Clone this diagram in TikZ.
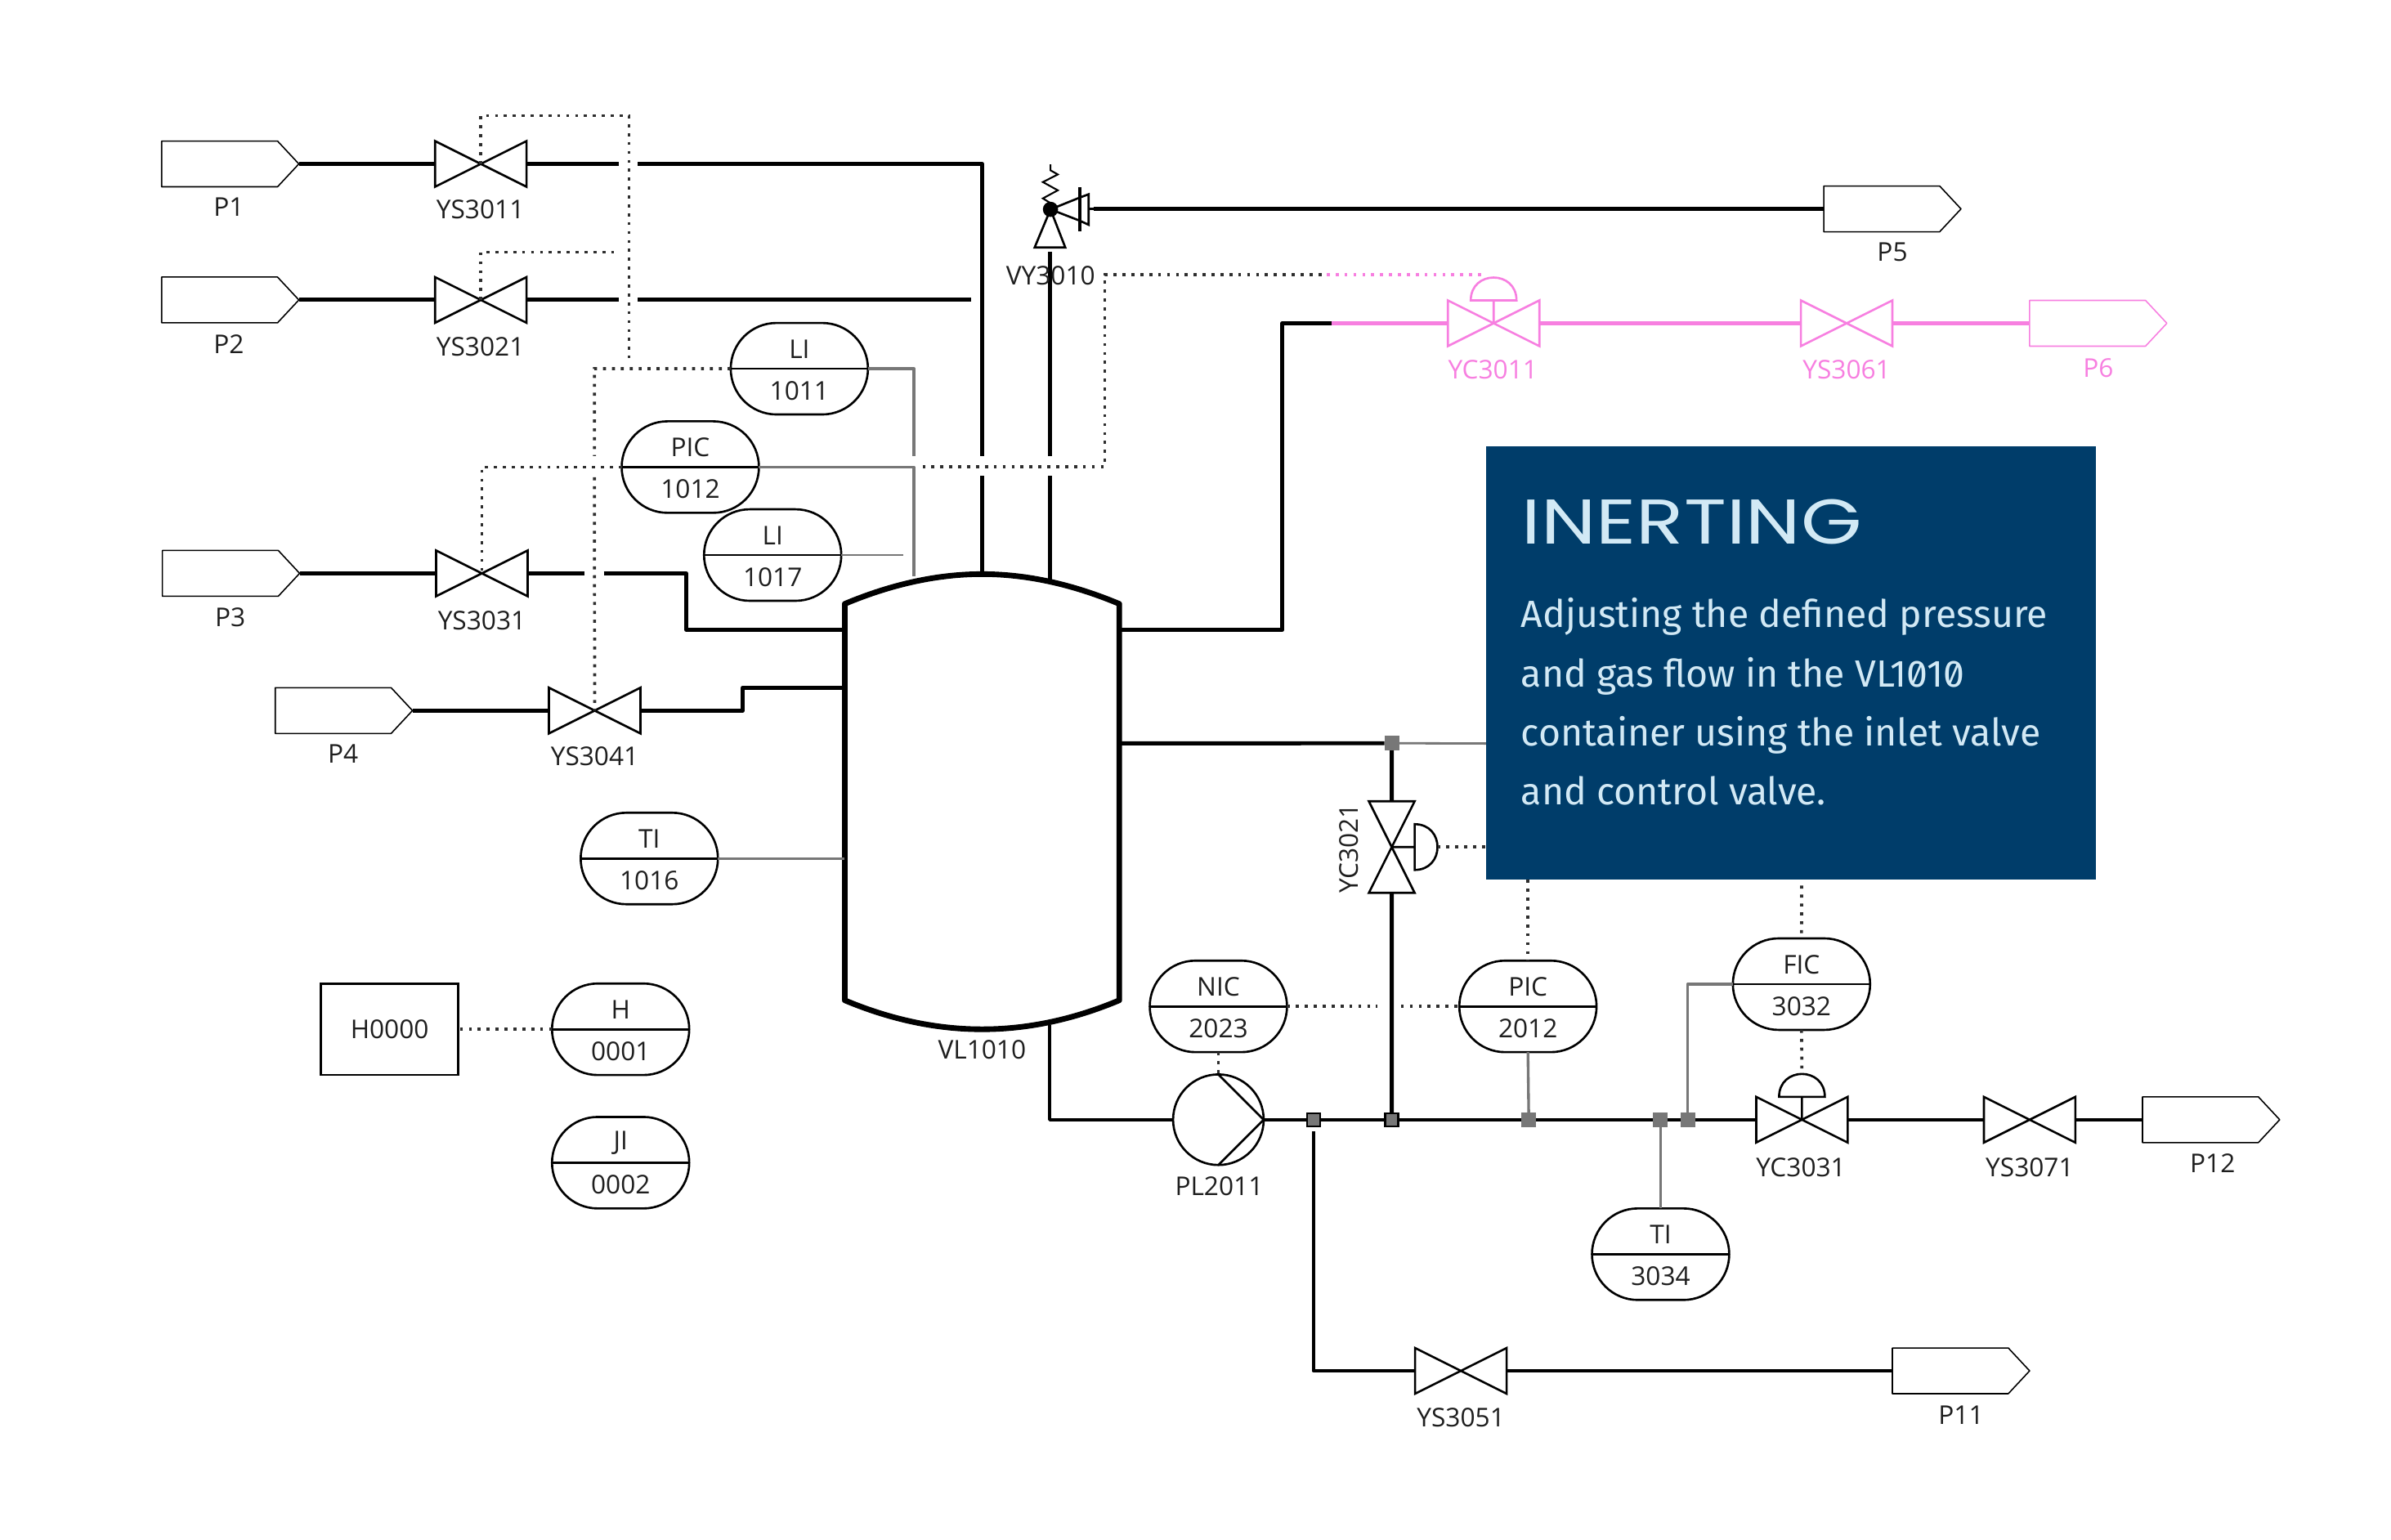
\documentclass[tikz,border=0pt]{standalone}
\usepackage{fontspec}
\usetikzlibrary{shapes.misc,calc}
\setmainfont{Open Sans}
\newfontfamily\bodyfont[RawFeature=+zero]{Fira Sans}
\newfontfamily\titlefont[FakeStretch=1.24]{Poppins}
\definecolor{navy}{HTML}{003D6A}
\definecolor{boxtext}{HTML}{D2E9F5}
\definecolor{pinky}{HTML}{F77FE0}
\definecolor{sgray}{HTML}{777777}
\definecolor{dots}{HTML}{2E2E2E}
\definecolor{labtext}{HTML}{1E1E1E}
\tikzset{
  x=0.037309cm,y=-0.037309cm,
  pipe/.style={line width=2.8pt,line join=round,black},
  vesselline/.style={line width=3.9pt,line join=round,black},
  sig/.style={line width=1.9pt,sgray,line join=round},
  dotline/.style={line width=2.1pt,dots,dash pattern=on 2.1pt off 4.1pt},
  valveline/.style={line width=1.5pt,line join=miter},
  vbox/.style={rectangle,inner sep=0pt,outer sep=0pt,minimum width=2.2386cm,minimum height=1.1193cm},
  vboxv/.style={rectangle,inner sep=0pt,outer sep=0pt,minimum width=1.1193cm,minimum height=2.2386cm},
  tagbox/.style={rectangle,inner sep=0pt,outer sep=0pt,minimum width=3.3578cm,minimum height=1.1193cm},
  instr/.style={rounded rectangle,rounded rectangle arc length=180,draw=black,line width=1.5pt,fill=white,inner sep=0pt,outer sep=0pt,minimum width=3.3578cm,minimum height=2.2386cm},
  hbox/.style={rectangle,draw=black,line width=1.5pt,fill=white,inner sep=0pt,outer sep=0pt,minimum width=3.3578cm,minimum height=2.2386cm,text=labtext,font=\fontsize{18}{20}\selectfont},
  lab/.style={inner sep=0pt,outer sep=0pt,yshift=-0.6pt,text=labtext,font=\fontsize{18}{20}\selectfont},
  plab/.style={lab,text=pinky},
  junc/.style={rectangle,inner sep=0pt,outer sep=0pt,minimum size=0.36cm,fill=sgray},
  juncd/.style={junc,draw=black,line width=1.3pt,minimum size=0.32cm},
  boxbody/.style={inner sep=0pt,outer sep=0pt,anchor=base west,text=boxtext,font=\bodyfont\fontsize{26.4}{30}\selectfont},
}
% valve: [colour]{name}{position}
\newcommand{\vlvh}[3][black]{\node[vbox] (#2) at (#3) {};
  \draw[valveline,#1] (#2.south west)--(#2.north east)--(#2.south east)--(#2.north west)--cycle;}
\newcommand{\vlvv}[3][black]{\node[vboxv] (#2) at (#3) {};
  \draw[valveline,#1] (#2.north west)--(#2.south east)--(#2.south west)--(#2.north east)--cycle;}
% process tag: [colour]{name}{position}
\newcommand{\ptag}[3][black]{\node[tagbox] (#2) at (#3) {};
  \draw[line width=0.9pt,line join=round,#1] (#2.north west)--($(#2.north east)+(-14,0)$)--(#2.east)--($(#2.south east)+(-14,0)$)--(#2.south west)--cycle;}
% instrument: {name}{position}{top}{bottom}
\newcommand{\inst}[4]{\node[instr] (#1) at (#2) {};
  \draw[line width=1.5pt] (#1.west)--(#1.east);
  \node[lab] (#1t) at ($(#1.center)+(0,-13.5)$) {#3};
  \node[lab] (#1b) at ($(#1.center)+(0,14)$) {#4};}
\begin{document}
\begin{tikzpicture}
\useasboundingbox (0,0) rectangle (1568,1009.9);
% coordinates
\coordinate (vTa) at (644,376.5);
\coordinate (vTb) at (688.4,380);
\coordinate (vGr) at (599.4,378);
\coordinate (vL3) at (554,413);
\coordinate (vL4) at (554,451);
\coordinate (vLt) at (554,563);
\coordinate (vRa) at (734,413);
\coordinate (vRb) at (734,487.5);
\coordinate (vBt) at (688.4,672);
% tags and valves
\ptag{P1}{151,107.5}
\ptag{P2}{151,196.7}
\ptag{P3}{151.5,376}
\ptag{P4}{225.5,466}
\ptag{P5}{1241,137}
\ptag[pinky]{P6}{1376,212}
\ptag{P11}{1286,899}
\ptag{P12}{1450,734.3}
\vlvh{YS1}{315.3,107.5}
\vlvh{YS2}{315.3,196.7}
\vlvh{YS3}{316,376}
\vlvh{YS4}{390,466}
\vlvh{YS5}{958,899}
\vlvh{YS7}{1331,734.3}
\vlvh[pinky]{YS6}{1211,212}
\vlvh[pinky]{YCa}{979.5,212}
\vlvh{YCc}{1181.7,734.3}
\vlvv{YCb}{912.7,555.5}
% actuators
\coordinate (AaB) at ($(YCa.center)+(0,-15)$);
\coordinate (AaT) at ($(YCa.center)+(0,-30.5)$);
\coordinate (AcB) at ($(YCc.center)+(0,-15)$);
\coordinate (AcT) at ($(YCc.center)+(0,-30)$);
\coordinate (AbB) at ($(YCb.center)+(15,0)$);
\coordinate (AbT) at ($(YCb.center)+(30,0)$);
\draw[valveline,pinky] (YCa.center)--(AaB) ($(AaB)+(-15,0)$) .. controls +(0,-20) and +(0,-20) .. ($(AaB)+(15,0)$) -- cycle;
\draw[valveline] (YCc.center)--(AcB) ($(AcB)+(-15,0)$) .. controls +(0,-20) and +(0,-20) .. ($(AcB)+(15,0)$) -- cycle;
\draw[valveline] (YCb.center)--(AbB) ($(AbB)+(0,-15)$) .. controls +(20,0) and +(20,0) .. ($(AbB)+(0,15)$) -- cycle;
% vessel
\draw[vesselline] (554,396) .. controls (585,383) and (615,376.5) .. (vTa) .. controls (673,376.5) and (703,383) .. (734,396) -- (734,656) .. controls (703,669) and (673,675) .. (644,675) .. controls (615,675) and (585,669) .. (554,656) -- cycle;
% relief valve
\coordinate (Rb) at (688.9,137.3);
\coordinate (Rin) at (688.4,165);
\coordinate (Rout) at (717,137);
\draw[line width=1.2pt,line join=miter] (688.9,107.8)--(688.9,111.7)--(693.7,114.4)--(683.9,119.4)--(693.7,124.8)--(683.9,130.1)--(688.9,133.2);
\draw[valveline] (Rb)--(678.5,162.3)--(698.6,162.3)--cycle;
\draw[valveline] (Rb)--(708,129.6)--(708,144.7)--cycle;
\draw[valveline] (708,129.6)--(713.9,127.4)--(713.9,147.4)--(708,144.7);
\draw[line width=2.2pt] (708,122.9)--(708,151.5);
\draw[valveline] (713.9,137)--(Rout);
\fill (Rb) circle (5);
% pump
\node[circle,draw=black,line width=1.5pt,inner sep=0pt,outer sep=0pt,minimum size=2.2162cm] (pump) at (799,734.3) {};
\draw[line width=1.5pt,line join=miter] (pump.north)--(pump.east)--(pump.south);
% junctions
\node[juncd] (Ja) at (861.3,734.3) {};
\node[juncd] (Jb) at (912.7,734.3) {};
\node[junc] (Jc) at (1002.5,734.3) {};
\node[junc] (Jd) at (1089,734.3) {};
\node[junc] (Je) at (1106.7,734.3) {};
\node[junc] (Jf) at (912.7,487.4) {};
% free ends of broken lines
\coordinate (g1a) at (405.6,107.5); \coordinate (g1b) at (418.3,107.5); \coordinate (c1) at (vTa |- g1a);
\coordinate (g2a) at (405.6,196.7); \coordinate (g2b) at (418.3,196.7); \coordinate (e2) at (636.9,196.7);
\coordinate (g3a) at (383.5,376); \coordinate (g3b) at (396,376); \coordinate (c3) at (450,376);
\coordinate (g4a) at (644,299); \coordinate (g4b) at (644,312);
\coordinate (g5a) at (688.4,299); \coordinate (g5b) at (688.4,312);
\coordinate (g6a) at (599.4,299);
\coordinate (c4) at (487,466);
\coordinate (cPk) at (873.3,212);
\coordinate (cRa) at (841,413);
\coordinate (ca) at (861.3,742);
\coordinate (cb) at (861.3,899);
\coordinate (gb) at (974.5,487.6);
\coordinate (c17) at (592.4,364);
% pipes
\draw[pipe] (P1.east)--(YS1.west) (YS1.east)--(g1a) (g1b)--(c1)--(g4a);
\draw[pipe] (g4b)--(vTa);
\draw[pipe] (P2.east)--(YS2.west) (YS2.east)--(g2a) (g2b)--(e2);
\draw[pipe] (P3.east)--(YS3.west) (YS3.east)--(g3a) (g3b)--(c3)|-(vL3);
\draw[pipe] (P4.east)--(YS4.west) (YS4.east)--(c4)|-(vL4);
\draw[pipe] (Rin)--(g5a) (g5b)--(vTb);
\draw[pipe] (Rout)--(P5.west);
\draw[pipe] (vRa)-|(cRa |- cPk)--(cPk);
\draw[pipe,pinky] (cPk)--(YCa.west) (YCa.east)--(YS6.west) (YS6.east)--(P6.west);
\draw[pipe] (vRb)--(Jf.west) (Jf.south)--(YCb.north) (YCb.south)--(Jb.north);
\draw[pipe,line width=2.5pt] (vBt)|-(pump.west);
\draw[pipe,line width=2.5pt] (pump.east)--(Ja.west) (Ja.east)--(Jb.west) (Jb.east)--(Jc.west) (Jc.east)--(Jd.west) (Jd.east)--(Je.west) (Je.east)--(YCc.west) (YCc.east)--(YS7.west) (YS7.east)--(P12.west);
\draw[pipe,line width=2.5pt] (ca)|-(YS5.west) (YS5.east)--(P11.west);
% instruments
\inst{LIa}{524.2,241.8}{LI}{1011}
\inst{PICa}{452.7,306.3}{PIC}{1012}
\inst{LIb}{506.7,364}{LI}{1017}
\inst{TIa}{425.8,563}{TI}{1016}
\inst{Ha}{407,675}{H}{0001}
\inst{JIa}{407,762.5}{JI}{0002}
\inst{NIC}{799,660}{NIC}{2023}
\inst{PICb}{1002,660}{PIC}{2012}
\inst{FIC}{1181.4,645.4}{FIC}{3032}
\inst{TIb}{1089,822.5}{TI}{3034}
\node[hbox] (H0) at (255.5,675) {H0000};
% signal lines
\draw[sig] (LIa.east)-|(g6a);
\draw[sig] (PICa.east)-|(vGr);
\draw[sig,line width=1.6pt] (LIb.east)--(c17);
\draw[sig] (TIa.east)--(vLt);
\draw[sig] (PICb.south)--(Jc.north);
\draw[sig] (FIC.west)-|(Je.north);
\draw[sig] (TIb.north)--(Jd.south);
\draw[sig,line width=1.6pt] (Jf.east)--(gb);
% dotted lines
\coordinate (d1) at (412.5,75.9); \coordinate (d2) at (412.5,235);
\coordinate (d3) at (405.6,165.4);
\coordinate (d4) at (389.8,241.8); \coordinate (d5) at (389.8,299); \coordinate (d6) at (389.8,313);
\coordinate (d7) at (605,306); \coordinate (d8) at (724.5,306); \coordinate (d9) at (724.5,180.1);
\coordinate (d10) at (870,180.1); \coordinate (d11) at (975,180.1);
\coordinate (d12) at (903.4,660); \coordinate (d13) at (918.7,660);
\coordinate (d14) at (1002,577); \coordinate (d15) at (1181.5,580.8);
\coordinate (d16) at (974.5,555.5);
\draw[dotline] (YS1.center)|-(d1)--(d2);
\draw[dotline] (YS2.center)|-(d3);
\draw[dotline] (LIa.west)--(d4)--(d5) (d6)--(YS4.center);
\draw[dotline] (PICa.west)-|(YS3.center);
\draw[dotline] (d7)--(d8)--(d9)--(d10);
\draw[dotline,pinky] (d10)--(d11);
\draw[dotline] (NIC.south)--(pump.north);
\draw[dotline] (NIC.east)--(d12) (d13)--(PICb.west);
\draw[dotline] (AbT)--(d16);
\draw[dotline] (d14)--(PICb.north);
\draw[dotline] (d15)--(FIC.north);
\draw[dotline] (FIC.south)--(AcT);
\draw[dotline] (Ha.west)--(H0.east);
% labels
\node[lab] at (150,135) {P1};
\node[lab] at (315,137) {YS3011};
\node[lab] at (150,225) {P2};
\node[lab] at (315,227) {YS3021};
\node[lab] at (151,404.5) {P3};
\node[lab] at (316,406.5) {YS3031};
\node[lab] at (225,493.5) {P4};
\node[lab] at (390,495.5) {YS3041};
\node[lab] at (1241,165) {P5};
\node[lab] at (689,180) {VY3010};
\node[plab] at (979,242) {YC3011};
\node[plab] at (1211,242) {YS3061};
\node[plab] at (1376,241) {P6};
\node[lab] at (644,688) {VL1010};
\node[lab] at (799.5,777.5) {PL2011};
\node[lab] at (1181,765) {YC3031};
\node[lab] at (1331,765) {YS3071};
\node[lab] at (1451,762.5) {P12};
\node[lab] at (958,929) {YS3051};
\node[lab] at (1286,927.5) {P11};
\node[lab,rotate=90,yshift=0.6pt] at (885,555.8) {YC3021};
% info box
\node[rectangle,fill=navy,inner sep=0pt,outer sep=0pt,minimum width=14.9236cm,minimum height=10.6cm] (infobox) at (1174.5,434.85) {};
\node[inner sep=0pt,outer sep=0pt,anchor=base west,text=boxtext,font=\titlefont\fontsize{44}{50}\selectfont] (title) at (998,357) {INERTING};
\node[boxbody] (l1) at (997.5,411.6) {Adjusting the defined pressure};
\node[boxbody] (l2) at (997.5,450.5) {and gas flow in the VL1010};
\node[boxbody] (l3) at (997.5,489) {container using the inlet valve};
\node[boxbody] (l4) at (997.5,527.8) {and control valve.};
\end{tikzpicture}
\end{document}
